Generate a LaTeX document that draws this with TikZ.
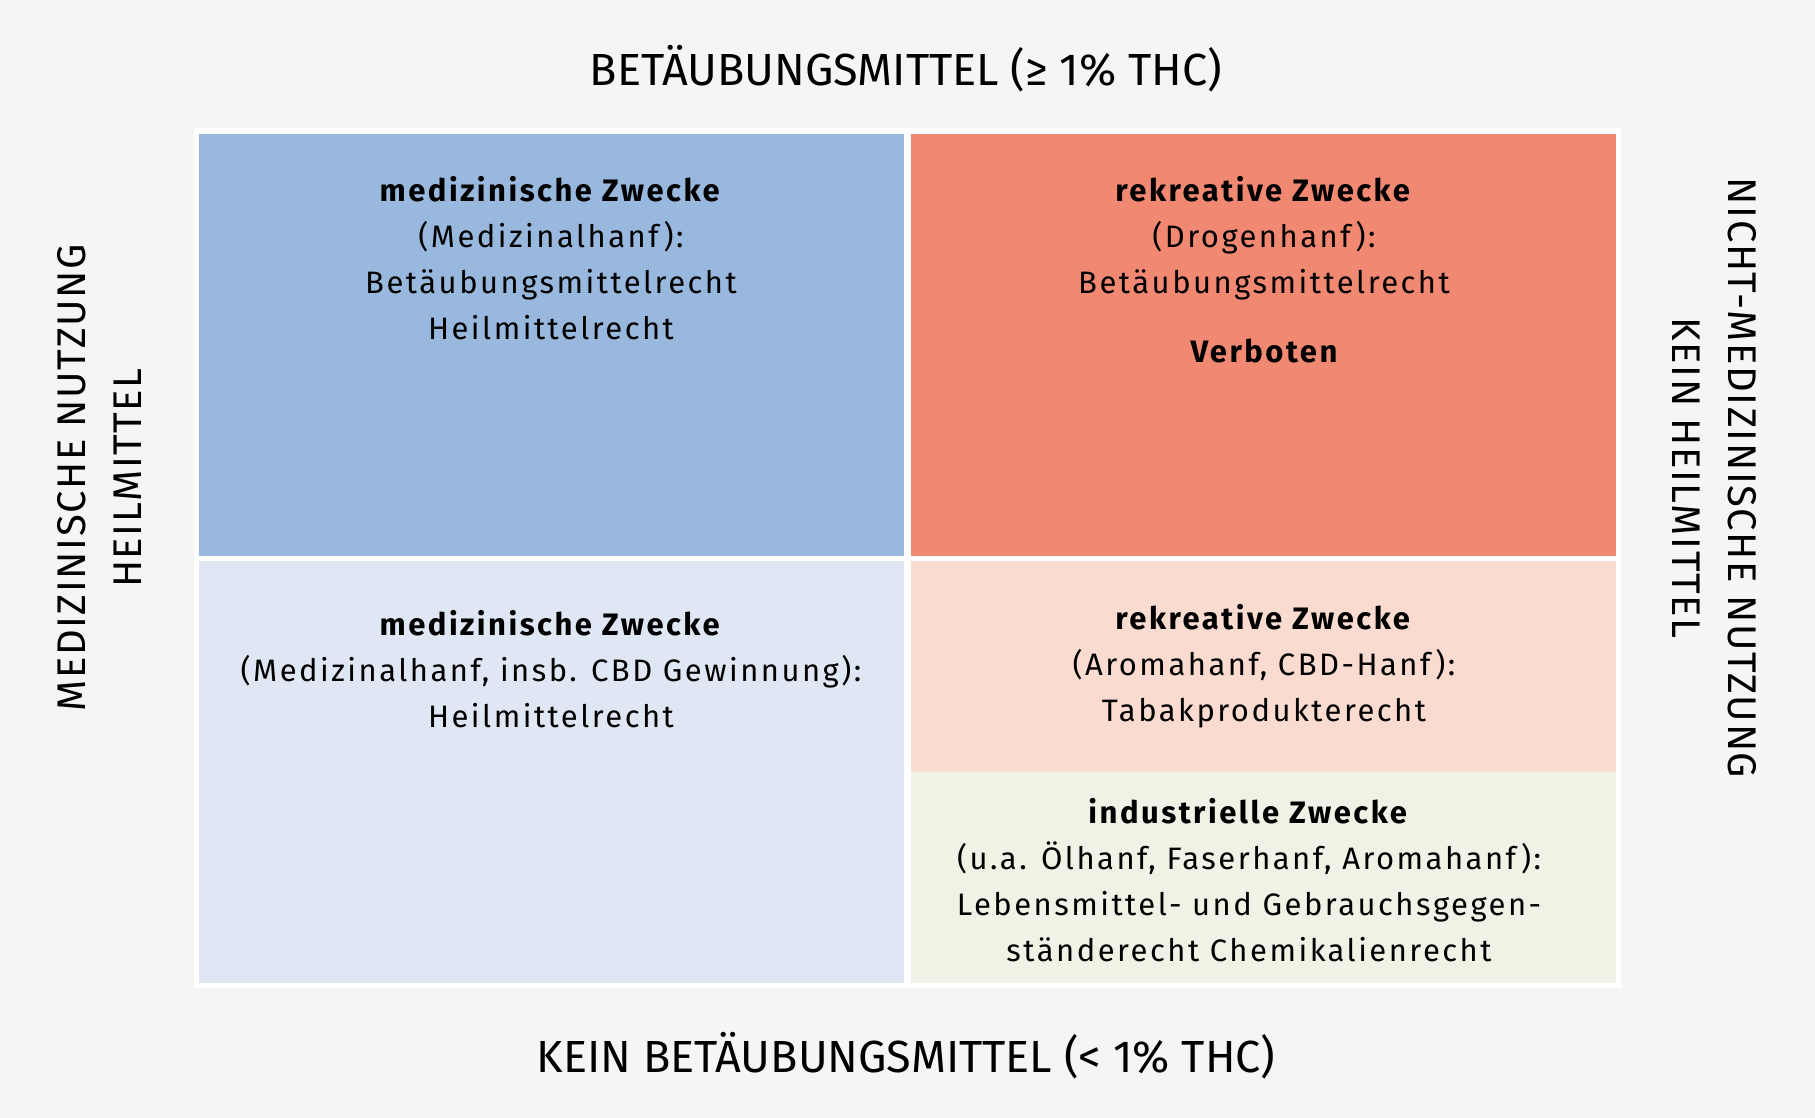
\documentclass[tikz,border=0pt]{standalone}
\usepackage{fontspec}
\setmainfont{Fira Sans}
\newfontfamily\capsfont[LetterSpace=4]{Fira Sans}
\newfontfamily\cellfont[LetterSpace=8]{Fira Sans}
\usepackage{tikz}
\usetikzlibrary{positioning}

\definecolor{bgGrey}{HTML}{F5F5F5}
\definecolor{medBlue}{HTML}{99B8DE}
\definecolor{rekRed}{HTML}{F08872}
\definecolor{cbdBlue}{HTML}{E0E7F4}
\definecolor{tabPink}{HTML}{FADBD0}
\definecolor{indGreen}{HTML}{EFF3E6}

\tikzset{
  celltext/.style={anchor=north, inner sep=0pt, align=center,
    font=\cellfont\fontsize{31}{46}\selectfont},
  axistext/.style={inner sep=0pt, font=\fontsize{45}{54}\selectfont},
  sidetext/.style={inner sep=0pt, align=center,
    font=\capsfont\fontsize{40}{56}\selectfont}
}

\begin{document}
\begin{tikzpicture}[x=1pt,y=-1pt]
  \fill[bgGrey] (0,0) rectangle (1815,1118);
  \useasboundingbox (0,0) rectangle (1815,1118);
  \fill[white] (194,128) rectangle (1621,988);

  % cells
  \fill[medBlue]  (199,134) rectangle (904,556);
  \fill[rekRed]   (911,134) rectangle (1616,556);
  \fill[cbdBlue]  (199,561) rectangle (904,983);
  \fill[tabPink]  (911,561) rectangle (1616,772);
  \fill[indGreen] (911,772) rectangle (1616,983);

  % texts
  \node[celltext] (med) at (551,176) {\textbf{medizinische Zwecke}\\(Medizinalhanf):\\Betäubungsmittelrecht\\Heilmittelrecht};
  \node[celltext] (rek) at (1264,176) {\textbf{rekreative Zwecke}\\(Drogenhanf):\\Betäubungsmittelrecht};
  \node[font=\cellfont\bfseries\fontsize{31}{46}\selectfont, inner sep=0pt] (verb) at (1264,351) {Verboten};
  \node[celltext] (cbd) at (551,610) {\textbf{medizinische Zwecke}\\(Medizinalhanf, insb. CBD Gewinnung):\\Heilmittelrecht};
  \node[celltext] (tab) at (1264,604) {\textbf{rekreative Zwecke}\\(Aromahanf, CBD-Hanf):\\Tabakprodukterecht};
  \node[celltext] (ind) at (1249,798) {\textbf{industrielle Zwecke}\\(u.a. Ölhanf, Faserhanf, Aromahanf):\\Lebensmittel- und Gebrauchsgegen-\\ständerecht Chemikalienrecht};

  % axes
  \node[axistext] (btm) at (906,69) {BETÄUBUNGSMITTEL (≥ 1\% THC)};
  \node[axistext] (kbtm) at (906,1056) {KEIN BETÄUBUNGSMITTEL (< 1\% THC)};
  \node[sidetext, rotate=90] (heil) at (99,478) {MEDIZINISCHE NUTZUNG\\HEILMITTEL};
  \node[sidetext, rotate=-90] (kheil) at (1714,478) {NICHT-MEDIZINISCHE NUTZUNG\\KEIN HEILMITTEL};
\end{tikzpicture}
\end{document}
